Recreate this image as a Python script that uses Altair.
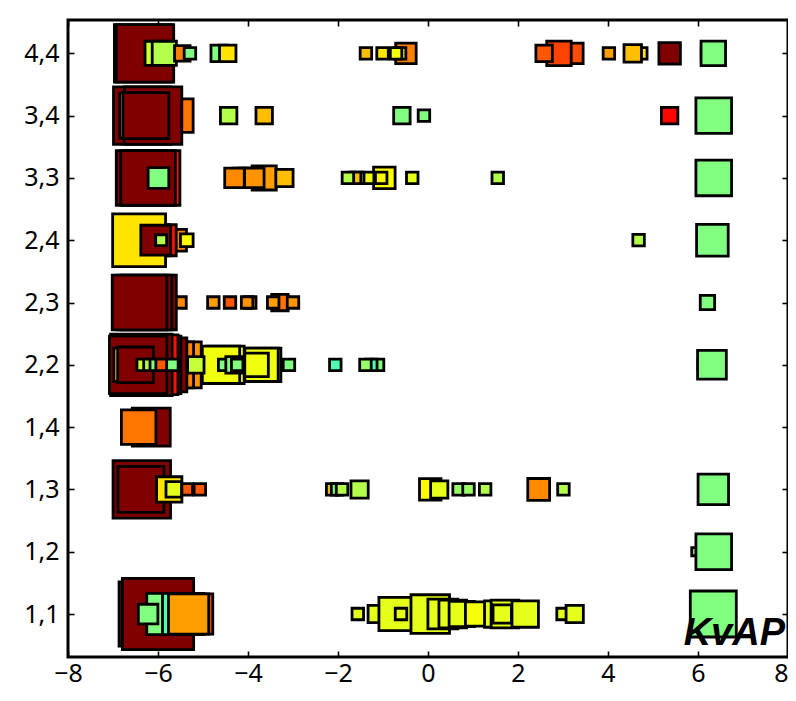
import altair as alt
import pandas as pd

row_names = ["1,1", "1,2", "1,3", "1,4", "2,2", "2,3", "2,4", "3,3", "3,4", "4,4"]
x_ticks = [-8, -6, -4, -2, 0, 2, 4, 6, 8]

# Each square: row label, position, magnitude (square side), colour value
rows = [
    # 1,1
    "1,1", "1,1", "1,1", "1,1", "1,1", "1,1", "1,1",
    "1,1", "1,1", "1,1", "1,1", "1,1", "1,1", "1,1", "1,1", "1,1", "1,1", "1,1", "1,1", "1,1", "1,1", "1,1",
    "1,1",
    # 1,2
    "1,2", "1,2",
    # 1,3
    "1,3", "1,3", "1,3", "1,3", "1,3", "1,3", "1,3", "1,3", "1,3", "1,3",
    "1,3", "1,3", "1,3", "1,3", "1,3", "1,3", "1,3", "1,3",
    # 1,4
    "1,4", "1,4",
    # 2,2
    "2,2", "2,2", "2,2", "2,2", "2,2", "2,2", "2,2", "2,2", "2,2", "2,2",
    "2,2", "2,2", "2,2", "2,2", "2,2", "2,2", "2,2", "2,2", "2,2", "2,2",
    "2,2", "2,2", "2,2", "2,2", "2,2", "2,2", "2,2", "2,2", "2,2", "2,2",
    # 2,3
    "2,3", "2,3", "2,3", "2,3", "2,3", "2,3", "2,3", "2,3", "2,3", "2,3", "2,3", "2,3",
    # 2,4
    "2,4", "2,4", "2,4", "2,4", "2,4", "2,4", "2,4", "2,4", "2,4",
    # 3,3
    "3,3", "3,3", "3,3", "3,3", "3,3", "3,3", "3,3", "3,3", "3,3", "3,3",
    "3,3", "3,3", "3,3", "3,3", "3,3", "3,3", "3,3", "3,3", "3,3", "3,3",
    # 3,4
    "3,4", "3,4", "3,4", "3,4", "3,4", "3,4", "3,4", "3,4", "3,4", "3,4", "3,4",
    # 4,4
    "4,4", "4,4", "4,4", "4,4", "4,4", "4,4", "4,4", "4,4", "4,4", "4,4", "4,4",
    "4,4", "4,4", "4,4", "4,4", "4,4", "4,4", "4,4", "4,4", "4,4", "4,4", "4,4",
]

positions = [
    # 1,1
    -6.15, -6.0, -5.79, -5.44, -5.23, -5.32, -6.22,
    -1.56, -1.14, -0.72, -0.60, 0.05, 0.33, 0.55, 0.75, 1.10, 1.55, 1.71, 1.65, 2.16, 2.99, 3.26,
    6.34,
    # 1,2
    5.95, 6.35,
    # 1,3
    -6.36, -6.38, -5.07, -5.36, -5.75, -5.65, -2.13, -2.02, -1.91, -1.52,
    0.05, 0.25, 0.68, 0.90, 1.27, 2.46, 3.01, 6.34,
    # 1,4
    -6.15, -6.43,
    # 2,2
    -5.55, -5.72, -5.96, -6.13, -6.22, -6.37, -6.44, -6.61, -6.50, -4.50,
    -4.60, -3.64, -3.70, -3.81, -6.34, -6.19, -6.05, -5.92, -5.68, -5.16,
    -4.53, -4.31, -4.24, -3.09, -2.06, -1.11, -1.26, -1.39, 6.10, 6.31,
    # 2,3
    -5.50, -6.20, -6.30, -6.41, -4.77, -4.40, -3.95, -4.02, -3.29, -3.44, -3.00, 6.21,
    # 2,4
    -5.61, -5.36, -5.94, -6.10, -6.42, -6.05, -5.93, 4.68, 6.32,
    # 3,3
    -6.12, -6.32, -6.22, -5.99, -3.64, -4.12, -3.98, -3.86, -4.30, -3.19,
    -0.97, -1.33, -1.55, -1.62, -1.78, -1.04, -0.35, 1.55, 6.10, 6.35,
    # 3,4
    -5.59, -6.35, -6.11, -6.35, -6.27, -4.43, -3.64, -0.58, -0.09, 5.37, 6.35,
    # 4,4
    -6.33, -6.29, -6.02, -5.86, -5.46, -5.29, -4.64, -4.45, -0.49, -1.38, -1.01,
    -0.62, -0.71, 3.22, 2.91, 2.58, 4.02, 4.74, 4.55, 5.37, 6.20, 6.34,
]

magnitudes = [
    # 1,1
    5.6, 6.2, 3.6, 3.6, 3.5, 3.5, 1.7,
    1.0, 1.5, 2.9, 1.0, 3.35, 2.6, 2.4, 2.2, 2.1, 2.3, 2.4, 1.6, 2.3, 1.0, 1.5,
    4.0,
    # 1,2
    0.7, 3.1,
    # 1,3
    5.0, 4.0, 1.0, 1.0, 2.2, 1.35, 1.0, 1.0, 1.0, 1.5,
    1.87, 1.5, 1.0, 1.0, 1.0, 1.9, 1.0, 2.65,
    # 1,4
    3.3, 3.0,
    # 2,2
    4.0, 4.0, 4.7, 5.0, 5.2, 5.35, 5.0, 2.9, 3.1, 3.25,
    3.25, 2.9, 2.9, 2.05, 1.0, 1.0, 1.0, 1.0, 1.0, 1.43,
    1.0, 1.43, 1.0, 1.0, 1.0, 1.0, 1.0, 1.0, 0.8, 2.5,
    # 2,3
    1.0, 4.75, 4.75, 4.75, 1.0, 1.0, 1.0, 1.0, 1.43, 1.0, 1.0, 1.25,
    # 2,4
    1.9, 1.1, 2.7, 2.7, 4.6, 2.6, 0.95, 1.0, 2.75,
    # 3,3
    4.75, 4.75, 4.75, 1.8, 2.1, 1.7, 1.7, 1.7, 1.7, 1.5,
    1.87, 1.0, 1.0, 1.0, 1.0, 1.0, 1.0, 1.0, 0.8, 3.1,
    # 3,4
    2.9, 5.0, 5.0, 3.9, 4.0, 1.43, 1.43, 1.43, 1.0, 1.43, 3.1,
    # 4,4
    5.0, 5.0, 2.1, 2.1, 1.35, 1.0, 1.43, 1.43, 1.78, 1.0, 1.0,
    1.0, 1.0, 1.78, 2.13, 1.43, 1.0, 1.0, 1.52, 1.87, 1.0, 2.13,
]

values = [
    # 1,1
    1.0, 1.0, 0.5, 0.45, 0.79, 0.72, 0.5,
    0.6, 0.6, 0.6, 0.6, 0.6, 0.6, 0.6, 0.6, 0.615, 0.6, 0.6, 0.6, 0.6, 0.6, 0.6,
    0.5,
    # 1,2
    0.5, 0.5,
    # 1,3
    1.0, 1.0, 0.79, 0.79, 0.65, 0.6, 0.6875, 0.5, 0.55, 0.55,
    0.63, 0.6, 0.525, 0.525, 0.55, 0.74, 0.55, 0.5,
    # 1,4
    1.0, 0.76,
    # 2,2
    0.73, 0.75, 1.0, 1.0, 0.86, 1.0, 1.0, 0.69, 1.0, 0.625,
    0.61, 0.6, 0.61, 0.61, 0.575, 0.55, 0.5, 0.79, 0.5, 0.57,
    0.5, 0.5, 0.5, 0.5, 0.45, 0.5, 0.45, 0.525, 0.5, 0.5,
    # 2,3
    0.74, 1.0, 1.0, 1.0, 0.72, 0.79, 0.6875, 0.73, 0.76, 0.72, 0.73, 0.5,
    # 2,4
    0.75, 0.63, 0.86, 0.84, 0.65, 1.0, 0.55, 0.55, 0.5,
    # 3,3
    0.86, 1.0, 1.0, 0.5, 0.72, 0.72, 0.72, 0.73, 0.74, 0.6875,
    0.625, 0.61, 0.52, 0.6875, 0.55, 0.63, 0.6, 0.55, 0.5, 0.5,
    # 3,4
    0.76, 1.0, 1.0, 0.65, 1.0, 0.55, 0.6875, 0.5, 0.5, 0.87, 0.5,
    # 4,4
    1.0, 1.0, 0.575, 0.55, 0.75, 0.5, 0.5, 0.65, 0.75, 0.6875, 0.65,
    0.64, 0.61, 0.80, 0.81, 0.79, 0.72, 0.65, 0.6875, 1.0, 0.5, 0.5,
]

df = pd.DataFrame({
    "row": rows,
    "pos": positions,
    "mag": magnitudes,
    "val": values,
})
df["idx"] = [row_names.index(r) + 1 for r in df["row"]]
df["order"] = range(len(df))

label_expr = "[" + ",".join("'" + r + "'" for r in row_names) + "][datum.value - 1]"

xscale = alt.Scale(domain=[-8, 8], nice=False, zero=False)
yscale = alt.Scale(domain=[0.31, 10.535], nice=False, zero=False)

tick_common = dict(domain=False, grid=False, tickColor="black", tickWidth=1.6,
                   tickSize=6, offset=-6)
label_common = dict(labelFont="Noto Sans", labelFontSize=25, labelColor="black")

jet_scale = alt.Scale(
    domain=[0.375, 0.625, 0.875, 1.0],
    range=["#00ffff", "#ffff00", "#ff0000", "#800000"],
    interpolate="rgb",
)
size_scale = alt.Scale(type="pow", exponent=2, domain=[0, 7], range=[0, 6480])

mirror = alt.Chart(df).mark_square(opacity=0).encode(
    x=alt.X("pos:Q", scale=xscale, title=None,
            axis=alt.Axis(orient="top", values=x_ticks, labels=False, **tick_common)),
    y=alt.Y("idx:Q", scale=yscale, title=None,
            axis=alt.Axis(orient="right", values=list(range(1, 11)), labels=False, **tick_common)),
)

squares = alt.Chart(df).mark_square(
    filled=True, opacity=1, stroke="black", strokeWidth=2.8
).encode(
    x=alt.X("pos:Q", scale=xscale, title=None,
            axis=alt.Axis(orient="bottom", values=x_ticks, labelPadding=24,
                          labelBaseline="alphabetic",
                          labelAlign=alt.expr("datum.value == 8 ? 'right' : 'center'"),
                          **tick_common, **label_common)),
    y=alt.Y("idx:Q", scale=yscale, title=None,
            axis=alt.Axis(orient="left", values=list(range(1, 11)), labelExpr=label_expr,
                          labelPadding=9, **tick_common, **label_common)),
    size=alt.Size("mag:Q", scale=size_scale, legend=None),
    color=alt.Color("val:Q", scale=jet_scale, legend=None),
    order=alt.Order("order:Q"),
)

label = alt.Chart(pd.DataFrame({"t": ["KvAP"]})).mark_text(
    font="Liberation Sans", fontSize=38, fontWeight="bold", fontStyle="italic",
    align="right", baseline="alphabetic", color="black",
).encode(text="t:N", x=alt.value(717), y=alt.value(625))

chart = alt.layer(mirror, squares, label).resolve_axis(
    x="independent", y="independent"
).properties(
    width=720, height=637,
    padding={"left": 60, "top": 12, "right": 0, "bottom": 32},
    autosize=alt.AutoSizeParams(type="none"),
).configure_view(
    stroke="black", strokeWidth=3
)

chart.save("out.html", embed_options={"renderer": "svg", "actions": False})
